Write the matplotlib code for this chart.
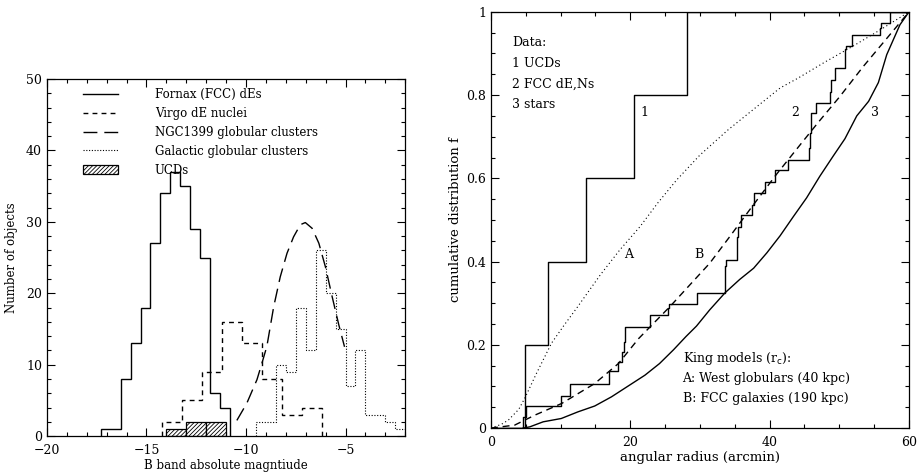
"""Luminosity histograms and cumulative radial distributions (UCD comparison)
"""
import matplotlib as mpl
import matplotlib.pyplot as plt
import matplotlib.ticker as ticker
from matplotlib.lines import Line2D
from matplotlib.patches import Patch

mpl.rcParams['font.family'] = 'DejaVu Serif'
mpl.rcParams['font.size'] = 9.
mpl.rcParams['hatch.linewidth'] = 0.6

# ---- left panel: B band absolute magnitude histograms
fornax_edges = [-17.3, -16.8, -16.3, -15.8, -15.3, -14.8, -14.3, -13.8,
                -13.3, -12.8, -12.3, -11.8, -11.3, -10.8]
fornax_counts = [1, 1, 8, 13, 18, 27, 34, 37, 35, 29, 25, 6, 4]

virgo_edges = [-14.2, -13.2, -12.2, -11.2, -10.2, -9.2, -8.2, -7.2, -6.2]
virgo_counts = [2, 5, 9, 16, 13, 8, 3, 4]

galactic_edges = [-9.5, -9.0, -8.5, -8.0, -7.5, -7.0, -6.5, -6.0, -5.5,
                  -5.0, -4.5, -4.0, -3.5, -3.0, -2.5, -2.0]
galactic_counts = [2, 2, 10, 9, 18, 12, 26, 20, 15, 7, 12, 3, 3, 2, 1]

ucd_edges = [-14.0, -13.0, -12.0, -11.0]
ucd_counts = [1, 2, 2]

ngc1399_mag = [-10.46, -9.96, -9.45, -9.2, -8.95, -8.61, -8.28, -7.94, -7.61,
               -7.27, -7.02, -6.68, -6.34, -6.01, -5.67, -5.34, -5.05]
ngc1399_n = [2.2, 4.6, 7.9, 10.2, 12.6, 18.1, 22.3, 25.6, 27.9,
             29.6, 29.9, 29.1, 27.0, 23.7, 19.5, 15.6, 12.5]

# ---- right panel: cumulative distributions
ucd_r = [0, 4.9, 8.2, 13.6, 20.5, 28.2, 60]
ucd_f = [0, 0.2, 0.4, 0.6, 0.8, 1.0, 1.0]

fcc_r = [0, 4.55, 4.98, 10.05, 11.4, 16.9, 18.3, 18.8, 19.1, 19.25, 22.9,
         25.35, 25.5, 29.6, 33.6, 33.8, 35.3, 35.5, 35.9, 37.5, 37.7, 39.4,
         40.8, 42.6, 45.7, 45.85, 46.0, 46.7, 48.6, 48.8, 49.4, 50.8, 51.0,
         51.8, 55.8, 56.0, 57.3, 60]
fcc_f = [0, 0.026, 0.052, 0.076, 0.107, 0.136, 0.159, 0.183, 0.207, 0.244,
         0.272, 0.288, 0.298, 0.325, 0.39, 0.404, 0.46, 0.484, 0.512, 0.536,
         0.564, 0.592, 0.620, 0.644, 0.672, 0.708, 0.756, 0.782, 0.808,
         0.837, 0.865, 0.91, 0.918, 0.945, 0.962, 0.973, 1.0, 1.0]

stars_r = [4.64, 5.6, 7.5, 10.1, 12.5, 14.9, 17.3, 19.7, 22.1, 24.2, 26.2,
           28.0, 29.5, 31.4, 33.6, 35.7, 37.7, 39.6, 41.5, 43.4, 45.3, 47.2,
           49.1, 50.8, 52.5, 54.2, 55.6, 56.8, 57.8, 58.7, 60]
stars_f = [0, 0.003, 0.015, 0.023, 0.039, 0.053, 0.075, 0.101, 0.127, 0.155,
           0.188, 0.22, 0.245, 0.284, 0.325, 0.357, 0.384, 0.421, 0.462,
           0.508, 0.553, 0.605, 0.653, 0.695, 0.75, 0.785, 0.83, 0.897,
           0.935, 0.969, 1.0]

king_a_r = [0, 1.5, 2.5, 4, 4.9, 6.5, 8.7, 10.5, 12.3, 15.7, 18.5, 21.4, 24,
            26.65, 30, 34, 38, 41.5, 44, 48, 52, 56, 60]
king_a_f = [0, 0.009, 0.019, 0.045, 0.073, 0.13, 0.204, 0.247, 0.288, 0.368,
            0.428, 0.484, 0.542, 0.596, 0.656, 0.716, 0.77, 0.817, 0.84,
            0.88, 0.918, 0.958, 1.0]

king_b_r = [0, 3.4, 6.3, 10.15, 14.9, 18.3, 21.2, 25.7, 31.4, 34.1, 37.65,
            41, 44.35, 47, 50, 53.4, 56.5, 60]
king_b_f = [0, 0.007, 0.031, 0.059, 0.107, 0.155, 0.215, 0.292, 0.396,
            0.456, 0.536, 0.61, 0.68, 0.735, 0.795, 0.868, 0.93, 1.0]


def style_axes(ax):
    ax.tick_params(which='both', direction='in', top=True, right=True,
                   width=0.8, labelsize=9)
    ax.tick_params(which='major', length=6)
    ax.tick_params(which='minor', length=3)
    ax.tick_params(axis='x', pad=6)
    for sp in ax.spines.values():
        sp.set_linewidth(0.9)


fig = plt.figure(figsize=(9.21, 4.73), dpi=100)
ax1 = fig.add_axes([0.051, 0.078, 0.389, 0.755])
ax2 = fig.add_axes([0.533, 0.095, 0.454, 0.88])

# left panel
ax1.stairs(fornax_counts, fornax_edges, color='black', lw=1.0)
ax1.stairs(virgo_counts, virgo_edges, color='black', lw=1.0,
           linestyle=(0, (3.5, 3)))
ax1.stairs(galactic_counts, galactic_edges, color='black', lw=0.8,
           linestyle=(0, (1, 1.5)))
ax1.plot(ngc1399_mag, ngc1399_n, color='black', lw=1.0,
         linestyle=(0, (10, 5)))
ucd_widths = [ucd_edges[i + 1] - ucd_edges[i] for i in range(len(ucd_counts))]
ax1.bar(ucd_edges[:-1], ucd_counts, width=ucd_widths, align='edge',
        facecolor='white', edgecolor='black', hatch='////////', lw=0.9)

ax1.set_xlim(-20, -2)
ax1.set_ylim(0, 50)
ax1.xaxis.set_major_locator(ticker.MultipleLocator(5))
ax1.xaxis.set_minor_locator(ticker.MultipleLocator(1))
ax1.yaxis.set_major_locator(ticker.MultipleLocator(10))
ax1.yaxis.set_minor_locator(ticker.MultipleLocator(2))
style_axes(ax1)
ax1.set_xlabel('B band absolute magntiude', fontsize=8.5, labelpad=1)
ax1.set_ylabel('Number of objects', fontsize=8.5, labelpad=6)

handles = [Line2D([], [], color='black', lw=1.0),
           Line2D([], [], color='black', lw=1.0, linestyle=(0, (3.5, 3))),
           Line2D([], [], color='black', lw=1.0, linestyle=(0, (10, 5))),
           Line2D([], [], color='black', lw=0.8, linestyle=(0, (1, 1.5))),
           Patch(facecolor='white', edgecolor='black', hatch='////////', lw=0.9)]
labels = ['Fornax (FCC) dEs', 'Virgo dE nuclei', 'NGC1399 globular clusters',
          'Galactic globular clusters', 'UCDs']
ax1.legend(handles, labels, loc='upper left', bbox_to_anchor=(0.1, 0.975),
           frameon=False, fontsize=8.5, handlelength=3.0, handletextpad=3.1,
           labelspacing=0.5, borderpad=0, borderaxespad=0)

# right panel
ax2.step(ucd_r, ucd_f, where='post', color='black', lw=1.0)
ax2.step(fcc_r, fcc_f, where='post', color='black', lw=1.0)
ax2.plot(stars_r, stars_f, color='black', lw=1.0)
ax2.plot(king_a_r, king_a_f, color='black', lw=0.8, linestyle=(0, (1, 2.5)))
ax2.plot(king_b_r, king_b_f, color='black', lw=1.0, linestyle=(0, (5, 3.5)))

ax2.text(22.0, 0.757, '1', ha='center', va='center', fontsize=9)
ax2.text(43.6, 0.757, '2', ha='center', va='center', fontsize=9)
ax2.text(55.1, 0.757, '3', ha='center', va='center', fontsize=9)
ax2.text(19.7, 0.417, 'A', ha='center', va='center', fontsize=9)
ax2.text(29.9, 0.418, 'B', ha='center', va='center', fontsize=9)

for i, s in enumerate(['Data:', '1 UCDs', '2 FCC dE,Ns', '3 stars']):
    ax2.text(3.0, 0.927 - 0.05 * i, s, ha='left', va='center', fontsize=9)
for i, s in enumerate(['King models (r$_{\\rm c}$):',
                       'A: West globulars (40 kpc)',
                       'B: FCC galaxies (190 kpc)']):
    ax2.text(27.5, 0.168 - 0.049 * i, s, ha='left', va='center', fontsize=9)

ax2.set_xlim(0, 60)
ax2.set_ylim(0, 1)
ax2.xaxis.set_major_locator(ticker.MultipleLocator(20))
ax2.xaxis.set_minor_locator(ticker.MultipleLocator(5))
ax2.yaxis.set_major_locator(ticker.MultipleLocator(0.2))
ax2.yaxis.set_minor_locator(ticker.MultipleLocator(0.05))
ax2.yaxis.set_major_formatter(ticker.FormatStrFormatter('%g'))
style_axes(ax2)
ax2.set_xlabel('angular radius (arcmin)', fontsize=9.5, labelpad=1)
ax2.set_ylabel('cumulative distribution f', fontsize=9.5, labelpad=3)

plt.savefig('out.png', dpi=100)
plt.close()
